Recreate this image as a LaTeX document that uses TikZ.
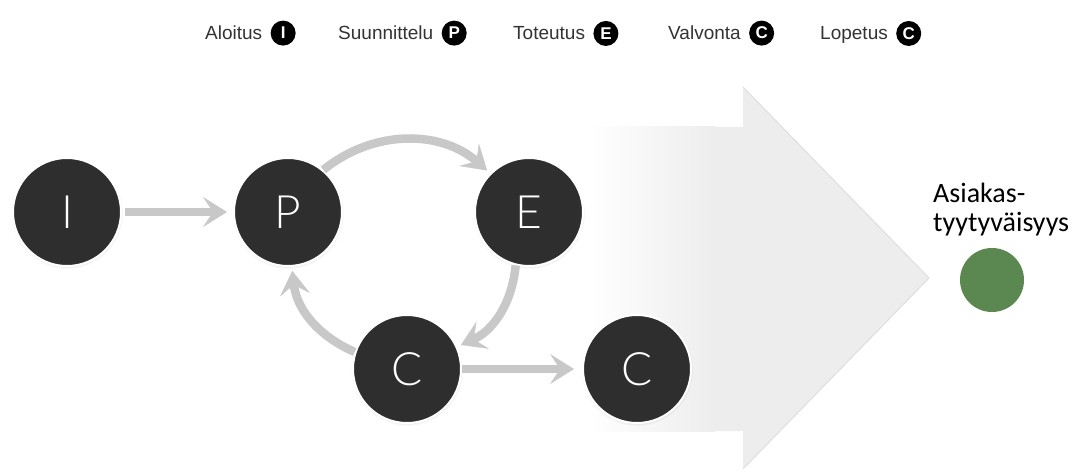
\documentclass[tikz,border=0pt]{standalone}
\usepackage{fontspec}
\setmainfont{Liberation Sans}
\newfontfamily\phasefont{Lato Light}
\newfontfamily\goalfont{Carlito}
\usetikzlibrary{arrows.meta}
\usetikzlibrary{positioning}
\usetikzlibrary{shadows}
\definecolor{phasegray}{RGB}{46,46,46}
\definecolor{flowgray}{RGB}{200,200,200}
\definecolor{goalgreen}{RGB}{90,136,80}
\definecolor{bigarrow}{RGB}{237,237,237}
\tikzstyle{phase}=[circle,minimum size=108pt,inner sep=0pt,fill=phasegray,draw=white,line width=2pt,text=white,font=\phasefont\fontsize{46pt}{46pt}\selectfont,circular drop shadow={shadow xshift=0pt,shadow yshift=-1pt,shadow scale=1.04,opacity=0.35}]
\tikzstyle{flow}=[draw=flowgray,line width=8.5pt,-{Stealth[length=24pt,width=30pt,inset=10pt,line width=0.5pt]}]
\tikzstyle{legtext}=[anchor=base west,inner sep=0pt,text depth=0pt,text=black!80,font=\fontsize{19pt}{19pt}\selectfont]
\tikzstyle{legdot}=[circle,fill=black,minimum size=25pt,inner sep=0pt,text=white,font=\bfseries\fontsize{17pt}{17pt}\selectfont]
\tikzstyle{goaltext}=[anchor=base west,inner sep=0pt,font=\goalfont\fontsize{28pt}{29pt}\selectfont]

\begin{document}
\begin{tikzpicture}[x=1pt,y=1pt]
    \useasboundingbox (0,0) rectangle (1075,471);
    % legend
    \foreach \txt/\ltr/\x [count=\k] in {Aloitus/I/205,Suunnittelu/P/338,Toteutus/E/513,Valvonta/C/668,Lopetus/C/820} {
        \node[legtext] (leg\k) at (\x,431) {\txt};
        \node[legdot,right=8pt of leg\k] (dot\k) {\ltr};
    };
    % big arrow behind
    \fill[bigarrow] (714,344) -- (743,344) -- (743,384) -- (929,193) -- (743,2) -- (743,40) -- (714,40) -- cycle;
    \shade[left color=white,right color=bigarrow] (590,40) rectangle (715,344);
    \draw[black!13,line width=1pt] (743,384) -- (929,193) -- (743,2);
    % phases
    \node[phase] (I) at (67,259) {I};
    \node[phase] (P) at (288,259) {P};
    \node[phase] (E) at (529,259) {E};
    \node[phase] (C1) at (407,102) {C};
    \node[phase] (C2) at (637,102) {C};
    \draw[flow,shorten <=3pt,shorten >=6pt] (I) -- (P);
    \draw[flow,shorten >=4pt] (P.50) to[bend left=40] (E.135);
    \draw[flow,shorten >=4pt] (E.-104) to[bend left=30] (C1.24);
    \draw[flow,shorten >=4pt] (C1.162) to[bend left=30] (P.-86);
    \draw[flow,shorten >=8pt] (C1) -- (C2);
    % goal
    \node[goaltext] (asiakas) at (933,268) {Asiakas-};
    \node[goaltext] (tyyty) at (933,239) {tyytyväisyys};
    \node[circle,fill=goalgreen,minimum size=64pt,inner sep=0pt] (sat) at (992,191) {};
\end{tikzpicture}
\end{document}
